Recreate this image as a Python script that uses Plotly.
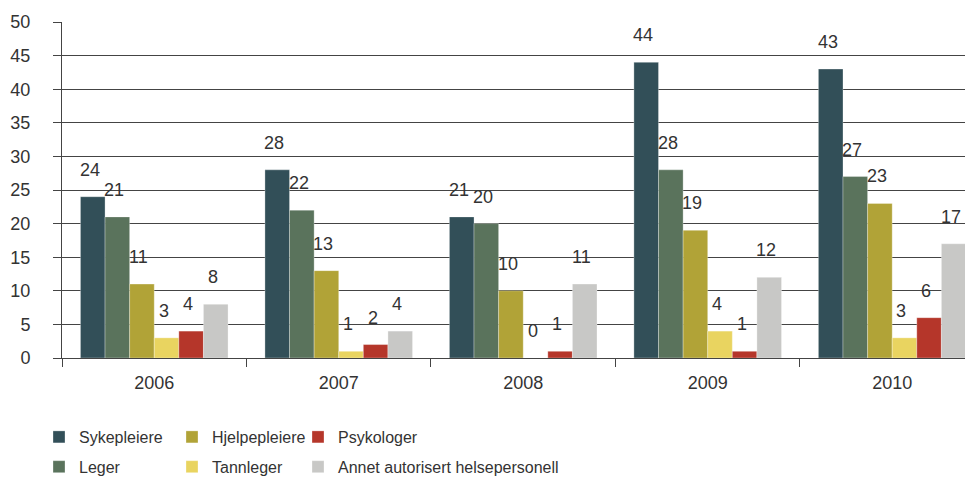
import plotly.graph_objects as go

years = ["2006", "2007", "2008", "2009", "2010"]
series_names = ["Sykepleiere", "Leger", "Hjelpepleiere", "Tannleger", "Psykologer",
                "Annet autorisert helsepersonell"]
sykepleiere = [24, 28, 21, 44, 43]
leger = [21, 22, 20, 28, 27]
hjelpepleiere = [11, 13, 10, 19, 23]
tannleger = [3, 1, 0, 4, 3]
psykologer = [4, 2, 1, 1, 6]
annet = [8, 4, 11, 12, 17]
values = [sykepleiere, leger, hjelpepleiere, tannleger, psykologer, annet]
colors = ["#324f58", "#5a735c", "#b1a337", "#e9d460", "#b5362a", "#c8c8c6"]
# legend columns (column-wise order as in the reference)
legend_ids = ["legend", "legend", "legend2", "legend2", "legend3", "legend3"]

NUM_FONT = "Liberation Sans, Arial, sans-serif"
TXT_FONT = "Liberation Sans, Arial, sans-serif"
TXT_COL = "#333333"

BARGAP = 0.2
n_series = len(values)
bar_w = (1 - BARGAP) / n_series

# page body has an 8px margin, so the figure is sized/placed to compensate
W, H, OFF = 965, 469, 8

fig = go.Figure()
for j, (name, vals, col, lg) in enumerate(zip(series_names, values, colors, legend_ids)):
    fig.add_trace(go.Bar(
        x=years, y=vals, name=name,
        marker=dict(color=col, line=dict(color="rgba(255,255,255,0.5)", width=0.6)),
        legend=lg, legendgroup=name,
    ))
    # value labels above each bar, positioned via the category axis scale
    for i, v in enumerate(vals):
        fig.add_annotation(
            x=i - (1 - BARGAP) / 2 + (j + 0.5) * bar_w, y=v,
            xref="x", yref="y", text=str(v), showarrow=False,
            yanchor="bottom", xanchor="center", yshift=15, xshift=-3,
            font=dict(family=NUM_FONT, size=18, color=TXT_COL),
        )

grid_col = "#444444"
leg_common = dict(
    orientation="v", xref="container", yref="container",
    xanchor="left", yanchor="top",
    font=dict(family=TXT_FONT, size=16, color=TXT_COL),
    bgcolor="rgba(0,0,0,0)", traceorder="grouped", tracegroupgap=6,
)
leg_y = 1 - (420 - OFF) / H
fig.update_layout(
    width=W, height=H,
    margin=dict(l=62 - OFF, r=0, t=22 - OFF, b=119, autoexpand=False),
    paper_bgcolor="white", plot_bgcolor="white",
    barmode="group", bargap=BARGAP, bargroupgap=0,
    font=dict(family=NUM_FONT, size=18, color=TXT_COL),
    xaxis=dict(
        type="category", range=[-0.5, 4.438], automargin=False,
        showline=True, linecolor=grid_col, linewidth=1,
        ticks="outside", tickson="boundaries", ticklen=8, tickcolor=grid_col,
        ticklabelstandoff=8,
        showgrid=False,
        tickfont=dict(family=NUM_FONT, size=18, color=TXT_COL),
    ),
    yaxis=dict(
        range=[0, 50], dtick=5, tick0=0, automargin=False,
        showgrid=True, gridcolor=grid_col, gridwidth=1,
        showline=True, linecolor=grid_col, linewidth=1,
        ticks="outside", ticklen=8, tickcolor=grid_col,
        ticklabelstandoff=19,
        zeroline=False,
        tickfont=dict(family=NUM_FONT, size=18, color=TXT_COL),
    ),
    legend=dict(x=(39 - OFF) / W, y=leg_y, **leg_common),
    legend2=dict(x=(172 - OFF) / W, y=leg_y, **leg_common),
    legend3=dict(x=(298 - OFF) / W, y=leg_y, **leg_common),
)

fig.write_html("out.html")
